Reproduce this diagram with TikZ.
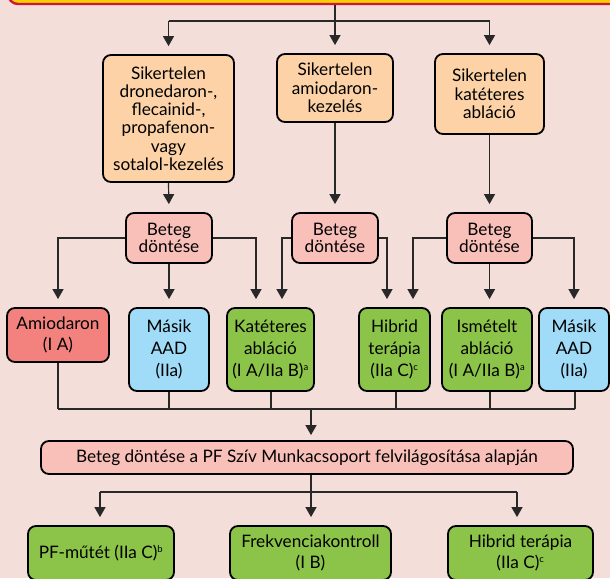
\documentclass[tikz,border=0pt]{standalone}
\usepackage{fontspec}
\setmainfont{Lato}
\usetikzlibrary{arrows.meta}
\definecolor{bgpink}{RGB}{243,222,218}
\definecolor{boxorange}{RGB}{252,210,166}
\definecolor{boxpink}{RGB}{249,192,185}
\definecolor{boxred}{RGB}{243,130,126}
\definecolor{boxblue}{RGB}{160,220,247}
\definecolor{boxgreen}{RGB}{139,196,72}
\definecolor{hdryellow}{RGB}{245,208,0}
\definecolor{hdrred}{RGB}{210,20,60}
\definecolor{linegray}{RGB}{40,40,40}
\tikzset{
  box/.style={draw=black, line width=1.8pt, rounded corners=8pt, align=center,
    inner sep=0pt, font=\fontsize{17.2}{18.3}\selectfont},
  tallbox/.style={box, font=\fontsize{17.2}{21.8}\selectfont},
  decbox/.style={box, fill=boxpink, minimum height=50pt, font=\fontsize{17.2}{17}\selectfont},
  conn/.style={draw=linegray, line width=1.2pt},
  arr/.style={conn, -{Triangle[width=11pt,length=10pt]}, shorten >=8pt},
}
\newcommand{\sups}[1]{\textsuperscript{\fontsize{9.5}{9.5}\selectfont #1}}
\begin{document}
\begin{tikzpicture}[x=1pt,y=-1pt]
\fill[bgpink] (0,0) rectangle (610,578);
\useasboundingbox (0,0) rectangle (610,578);
\begin{scope}
\clip (0,0) rectangle (610,578);
% header bar running off the top edge
\draw[fill=hdryellow, draw=hdrred, line width=2.4pt, rounded corners=10pt] (8,-30) rectangle (680,4);
\coordinate (hdr) at (335,5);

% first row: unsuccessful treatments
\node[box, fill=boxorange, minimum width=131pt, minimum height=127pt] (s1) at (168.5,118.5)
  {Sikertelen\\dronedaron-,\\flecainid-,\\propafenon-\\vagy\\sotalol-kezelés};
\node[box, fill=boxorange, minimum width=116pt, minimum height=68pt] (s2) at (335,88)
  {Sikertelen\\amiodaron-\\kezelés};
\node[box, fill=boxorange, minimum width=109pt, minimum height=80pt] (s3) at (489.5,94)
  {Sikertelen\\katéteres\\abláció};

% patient decisions
\node[decbox, minimum width=86pt] (b1) at (169,238) {Beteg\\döntése};
\node[decbox, minimum width=86pt] (b2) at (335,238) {Beteg\\döntése};
\node[decbox, minimum width=85pt] (b3) at (489.5,238) {Beteg\\döntése};

% options
\node[tallbox, fill=boxred, minimum width=102pt, minimum height=54pt] (r1) at (58,335) {Amiodaron\\(I A)};
\node[tallbox, fill=boxblue, minimum width=80pt, minimum height=83pt] (r2) at (169,349.5) {Másik\\AAD\\(IIa)};
\node[tallbox, fill=boxgreen, minimum width=87pt, minimum height=83pt] (r3) at (270.5,349.5) {Katéteres\\abláció\\(I A/IIa B)\sups{a}};
\node[tallbox, fill=boxgreen, minimum width=71pt, minimum height=83pt] (r4) at (394.5,349.5) {Hibrid\\terápia\\(IIa C)\sups{c}};
\node[tallbox, fill=boxgreen, minimum width=90pt, minimum height=83pt] (r5) at (487,349.5) {Ismételt\\abláció\\(I A/IIa B)\sups{a}};
\node[tallbox, fill=boxblue, minimum width=70pt, minimum height=83pt] (r6) at (574,349.5) {Másik\\AAD\\(IIa)};

% informed decision
\node[box, fill=boxpink, minimum width=532pt, minimum height=33pt] (big) at (307,457.5)
  {Beteg döntése a PF Szív Munkacsoport felvilágosítása alapján};

% final choices
\node[tallbox, fill=boxgreen, minimum width=146pt, minimum height=54pt] (f1) at (101,553) {PF-műtét (IIa C)\sups{b}};
\node[tallbox, fill=boxgreen, minimum width=161pt, minimum height=54pt] (f2) at (310.5,553) {Frekvenciakontroll\\(I B)};
\node[tallbox, fill=boxgreen, minimum width=145pt, minimum height=54pt] (f3) at (520.5,553) {Hibrid terápia\\(IIa C)\sups{c}};

% header to first row
\coordinate (t1) at (335,21);
\draw[conn] (hdr) -- (t1);
\draw[conn] (s1.north |- t1) -- (s3.north |- t1);
\draw[arr] (s1.north |- t1) -- (s1.north);
\draw[arr] (t1) -- (s2.north);
\draw[arr] (s3.north |- t1) -- (s3.north);

% first row to decisions
\draw[arr] (s1.south) -- (b1.north);
\draw[arr] (s2.south) -- (b2.north);
\draw[arr] (s3.south) -- (b3.north);

% decisions to options
\draw[arr] (b1.west) -| (r1.north);
\draw[arr] (b1.south) -- (r2.north);
\draw[arr] (b1.east) -| ([xshift=-14.5pt]r3.north);
\draw[arr] (b2.west) -| ([xshift=11.5pt]r3.north);
\draw[arr] (b2.east) -| ([xshift=-7.5pt]r4.north);
\draw[arr] (b3.west) -| ([xshift=18.5pt]r4.north);
\draw[arr] (b3.south) -- (b3.south |- r5.north);
\draw[arr] (b3.east) -| (r6.north);

% options gathered into the informed decision
\coordinate (g) at (311,409);
\foreach \n/\dx in {r1/0,r2/0,r3/0.5,r4/1.5,r5/3,r6/1}
  \draw[conn] ([xshift=\dx pt]\n.south) -- ([xshift=\dx pt]\n.south |- g);
\draw[conn] (r1.south |- g) -- ([xshift=1pt]r6.south |- g);
\draw[arr, shorten >=5pt] (g) -- (g |- big.north);

% informed decision to final choices
\coordinate (h) at (311,492);
\draw[conn] (h |- big.south) -- (h);
\draw[conn] ([xshift=-1pt]f1.north |- h) -- ([xshift=-3.5pt]f3.north |- h);
\draw[arr] ([xshift=-1pt]f1.north |- h) -- ([xshift=-1pt]f1.north);
\draw[arr] (h) -- (h |- f2.north);
\draw[arr] ([xshift=-3.5pt]f3.north |- h) -- ([xshift=-3.5pt]f3.north);
\end{scope}
\end{tikzpicture}
\end{document}
